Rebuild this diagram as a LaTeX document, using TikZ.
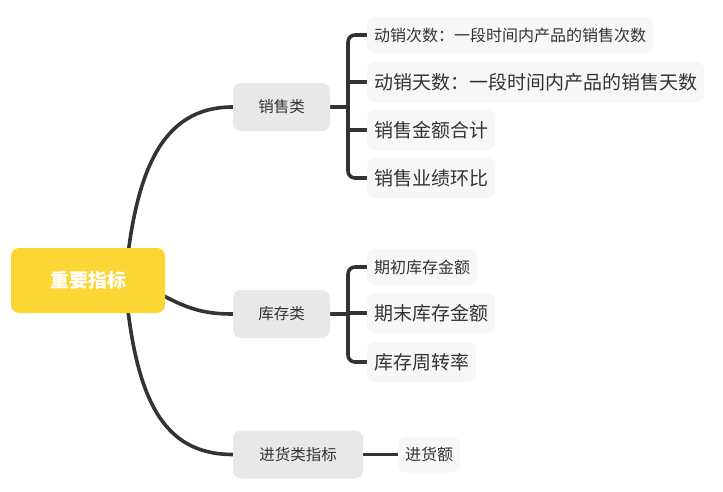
\documentclass[tikz,border=0pt]{standalone}
\usepackage{fontspec}
\setmainfont{Noto Sans CJK SC}
\usetikzlibrary{backgrounds}
\definecolor{rootc}{HTML}{FCD634}
\definecolor{lvone}{HTML}{E8E8E8}
\definecolor{lvtwo}{HTML}{F7F7F7}
\definecolor{linec}{HTML}{333333}
\definecolor{txtc}{HTML}{333333}
\begin{document}
\begin{tikzpicture}[x=1pt,y=-1pt,
  rootbox/.style={fill=rootc,rounded corners=8pt,minimum width=154pt,minimum height=65pt,
    text=white,font=\fontsize{19}{19}\selectfont\bfseries,inner sep=0pt},
  onebox/.style={fill=lvone,rounded corners=8pt,minimum height=48pt,inner sep=0pt,
    text=txtc,font=\fontsize{15.5}{16}\selectfont},
  twobig/.style={fill=lvtwo,rounded corners=8pt,anchor=west,minimum height=40pt,inner xsep=7pt,inner ysep=0pt,
    text=txtc,font=\fontsize{19}{19}\selectfont},
  twosmall/.style={fill=lvtwo,rounded corners=8pt,anchor=west,minimum height=36pt,inner xsep=7pt,inner ysep=0pt,
    text=txtc,font=\fontsize{16}{16}\selectfont},
  conn/.style={draw=linec,line width=3.6pt},
  brack/.style={draw=linec,line width=3.6pt,rounded corners=7pt}
]
\useasboundingbox (0,0) rectangle (723,492);

\node[rootbox] (r) at (88,280.5) {重要指标};
\node[onebox,minimum width=97pt] (s) at (281.5,107) {销售类};
\node[onebox,minimum width=97pt] (k) at (281.5,314) {库存类};
\node[onebox,minimum width=130pt] (p) at (298,454.5) {进货类指标};

\node[twosmall] (s1) at (367,35) {动销次数：一段时间内产品的销售次数};
\node[twobig] (s2) at (367,82) {动销天数：一段时间内产品的销售天数};
\node[twobig] (s3) at (367,130) {销售金额合计};
\node[twobig] (s4) at (367,178) {销售业绩环比};

\node[twosmall] (k1) at (367,267) {期初库存金额};
\node[twobig] (k2) at (367,313) {期末库存金额};
\node[twobig] (k3) at (367,362) {库存周转率};

\node[twosmall] (p1) at (398,454.5) {进货额};

\coordinate (rs) at (125,282);
\coordinate (sb) at (348,107);
\coordinate (kb) at (348,314);

\begin{scope}[on background layer]
\draw[conn] (rs) .. controls (135,170) and (162,107) .. (s.west);
\draw[conn] (rs) .. controls (135,398) and (162,454.5) .. (p.west);
\draw[conn] ([xshift=13pt]rs) .. controls (180,305) and (195,314) .. (k.west);

\draw[conn] (s.east) -- (sb);
\draw[brack] (s1.west) -- (sb |- s1.west) -- (sb |- s4.west) -- (s4.west);
\draw[conn] (sb |- s2.west) -- (s2.west);
\draw[conn] (sb |- s3.west) -- (s3.west);

\draw[conn] (k.east) -- (kb);
\draw[brack] (k1.west) -- (kb |- k1.west) -- (kb |- k3.west) -- (k3.west);
\draw[conn] (kb |- k2.west) -- (k2.west);

\draw[conn] (p.east) -- (p1.west);
\end{scope}
\end{tikzpicture}
\end{document}
